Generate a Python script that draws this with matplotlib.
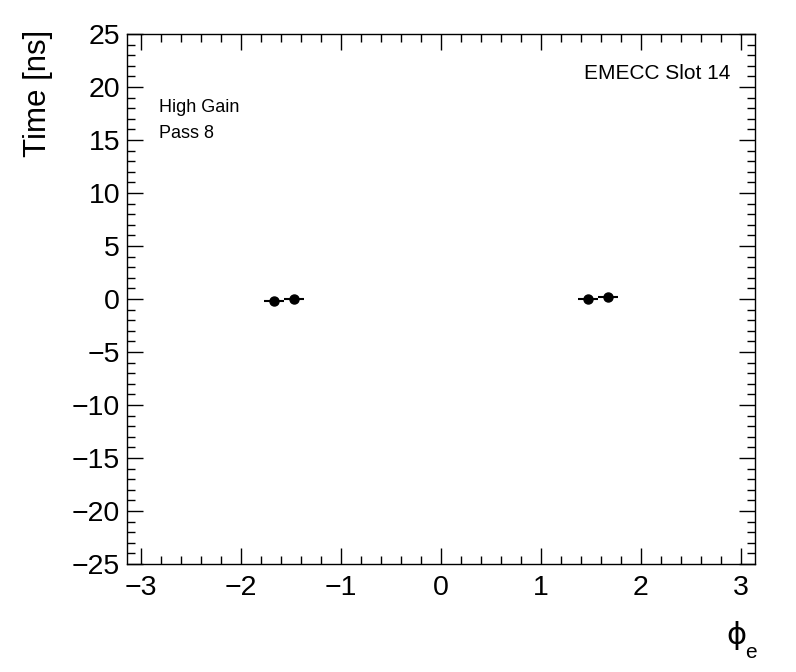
import numpy as np
import matplotlib
matplotlib.use('Agg')
import matplotlib.pyplot as plt
from matplotlib.ticker import MultipleLocator

plt.rcParams['font.family'] = ['Liberation Sans', 'DejaVu Sans']

# phi bins: 32 bins over [-pi, pi]
phi_centers = [-1.669, -1.473, 1.473, 1.669]
phi_halfwidth = [0.0982, 0.0982, 0.0982, 0.0982]
time_ns = [-0.15, -0.03, 0.02, 0.2]

fig = plt.figure(figsize=(7.96, 6.72), dpi=100)
ax = fig.add_axes([0.1596, 0.1607, 0.7889, 0.7887])

ax.errorbar(phi_centers, time_ns, xerr=phi_halfwidth, fmt='o', color='black',
            markersize=6.5, elinewidth=1.5, capsize=0)

ax.set_xlim(-np.pi, np.pi)
ax.set_ylim(-25, 25)
ax.xaxis.set_major_locator(MultipleLocator(1))
ax.xaxis.set_minor_locator(MultipleLocator(0.2))
ax.yaxis.set_major_locator(MultipleLocator(5))
ax.yaxis.set_minor_locator(MultipleLocator(1))
ax.tick_params(which='both', direction='in', top=True, right=True, width=1)
ax.tick_params(which='major', length=11.5, labelsize=20.5)
ax.tick_params(which='minor', length=5.8)
ax.tick_params(axis='x', which='major', pad=8)
ax.tick_params(axis='y', which='major', pad=5)
for s in ax.spines.values():
    s.set_linewidth(1)

# axis titles, ROOT style (aligned to the ends)
fig.text(736 / 796, 1 - 636 / 672, '\u03d5', ha='center', va='center',
         fontsize=22, family='DejaVu Sans')
fig.text(751 / 796, 1 - 652 / 672, 'e', ha='center', va='center', fontsize=15)
fig.text(0.048, 0.955, 'Time [ns]', ha='center', va='top', rotation=90, fontsize=22.5)

ax.text(0.960, 0.926, 'EMECC Slot 14', transform=ax.transAxes, ha='right',
        va='center', fontsize=15)
ax.text(0.051, 0.862, 'High Gain', transform=ax.transAxes, ha='left',
        va='center', fontsize=13)
ax.text(0.051, 0.813, 'Pass 8', transform=ax.transAxes, ha='left',
        va='center', fontsize=13)

fig.savefig('out.png', dpi=100)
